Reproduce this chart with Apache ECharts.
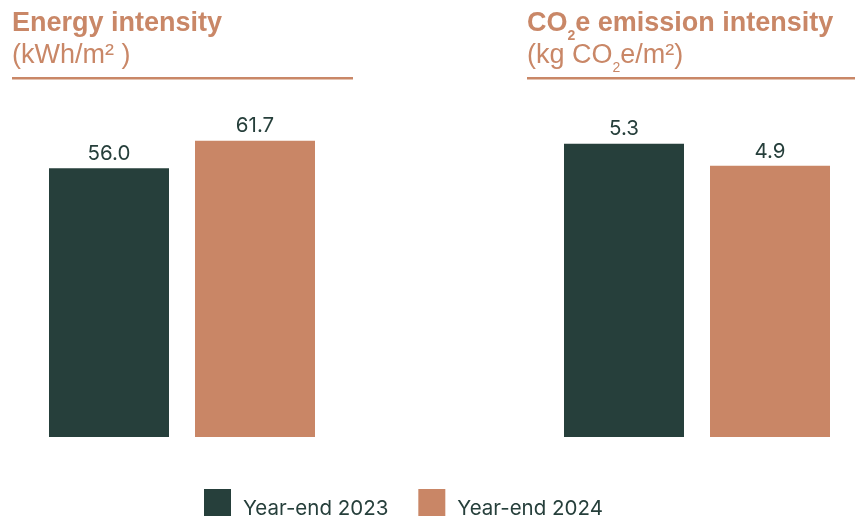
<!DOCTYPE html>
<html>
<head>
<meta charset="utf-8">
<script src="https://cdn.jsdelivr.net/npm/echarts@6/dist/echarts.min.js"></script>
<style>
  html, body { margin: 0; padding: 0; background: #ffffff; }
  #chart { width: 855px; height: 520px; }
</style>
</head>
<body>
<div id="chart"></div>
<script>
// Intensity values per reporting year
const seriesNames = ['Year-end 2023', 'Year-end 2024'];
const energyValues = [56.0, 61.7];      // kWh/m²
const emissionValues = [5.3, 4.9];      // kg CO2e/m²
const categories = [''];

const DARK = '#263f3b';
const ORANGE = '#c98666';
const TITLE = '#c98767';
const TITLE_FONT = '"Liberation Sans", Arial, sans-serif';
const BODY_FONT = 'Inter, "Liberation Sans", sans-serif';

const chart = echarts.init(document.getElementById('chart'));

function barSeries(name, value, color, axisIndex) {
  return {
    name: name,
    type: 'bar',
    xAxisIndex: axisIndex,
    yAxisIndex: axisIndex,
    data: [value],
    barWidth: 120,
    barGap: '21.67%',
    itemStyle: { color: color },
    label: {
      show: true,
      position: 'top',
      distance: 4,
      fontFamily: BODY_FONT,
      fontSize: 20.5,
      color: DARK,
      formatter: p => p.value.toFixed(1)
    },
    emphasis: { disabled: true }
  };
}

// Heading lines are laid out from text pieces so that subscripts can sit
// below the baseline; widths come from the canvas text metrics.
const measureCtx = document.createElement('canvas').getContext('2d');
function fontString(piece) {
  return (piece.bold ? 'bold ' : '') + piece.size + 'px ' + TITLE_FONT;
}

// 'bottom' alignment puts the descender edge on y; lift to the baseline
const DESC = 0.212;
function line(x, baseline, pieces) {
  const out = [];
  let cx = x;
  pieces.forEach(piece => {
    measureCtx.font = fontString(piece);
    const w = measureCtx.measureText(piece.text).width;
    out.push({
      type: 'text',
      x: cx,
      y: baseline + (piece.sub || 0) + DESC * piece.size,
      silent: true,
      style: {
        text: piece.text,
        font: fontString(piece),
        fill: TITLE,
        align: 'left',
        verticalAlign: 'bottom'
      }
    });
    cx += w;
  });
  return out;
}

const headings = [].concat(
  line(12, 31.5, [{ text: 'Energy intensity', bold: true, size: 27 }]),
  line(12, 63, [{ text: '(kWh/m² )', size: 27 }]),
  line(527, 31.5, [
    { text: 'CO', bold: true, size: 27 },
    { text: '2', bold: true, size: 14, sub: 8.5 },
    { text: 'e emission intensity', bold: true, size: 27 }
  ]),
  line(527, 63, [
    { text: '(kg CO', size: 27 },
    { text: '2', size: 14, sub: 9 },
    { text: 'e/m²)', size: 27 }
  ])
);

chart.setOption({
  animation: false,
  grid: [
    { left: 12, width: 340, top: 101, bottom: 83 },
    { left: 539, right: 0, top: 105, bottom: 83 }
  ],
  xAxis: [
    { type: 'category', gridIndex: 0, data: categories, show: false },
    { type: 'category', gridIndex: 1, data: categories, show: false }
  ],
  yAxis: [
    { type: 'value', gridIndex: 0, min: 0, max: 70, show: false },
    { type: 'value', gridIndex: 1, min: 0, max: 6, show: false }
  ],
  legend: {
    data: seriesNames,
    left: 204,
    top: 489,
    padding: 0,
    icon: 'rect',
    itemWidth: 27,
    itemHeight: 27,
    itemGap: 30,
    selectedMode: false,
    formatter: name => '{t|' + name + '}',
    textStyle: {
      fontFamily: BODY_FONT, fontSize: 20.5, color: DARK,
      rich: {
        t: { fontFamily: BODY_FONT, fontSize: 20.5, color: DARK, padding: [12, 0, 0, 7] }
      }
    }
  },
  series: [
    barSeries(seriesNames[0], energyValues[0], DARK, 0),
    barSeries(seriesNames[1], energyValues[1], ORANGE, 0),
    barSeries(seriesNames[0], emissionValues[0], DARK, 1),
    barSeries(seriesNames[1], emissionValues[1], ORANGE, 1)
  ],
  graphic: headings.concat([
    {
      type: 'rect', left: 12, top: 77, silent: true,
      shape: { width: 341, height: 2.5 },
      style: { fill: TITLE }
    },
    {
      type: 'rect', left: 527, top: 77, silent: true,
      shape: { width: 328, height: 2.5 },
      style: { fill: TITLE }
    }
  ])
});
</script>
</body>
</html>
